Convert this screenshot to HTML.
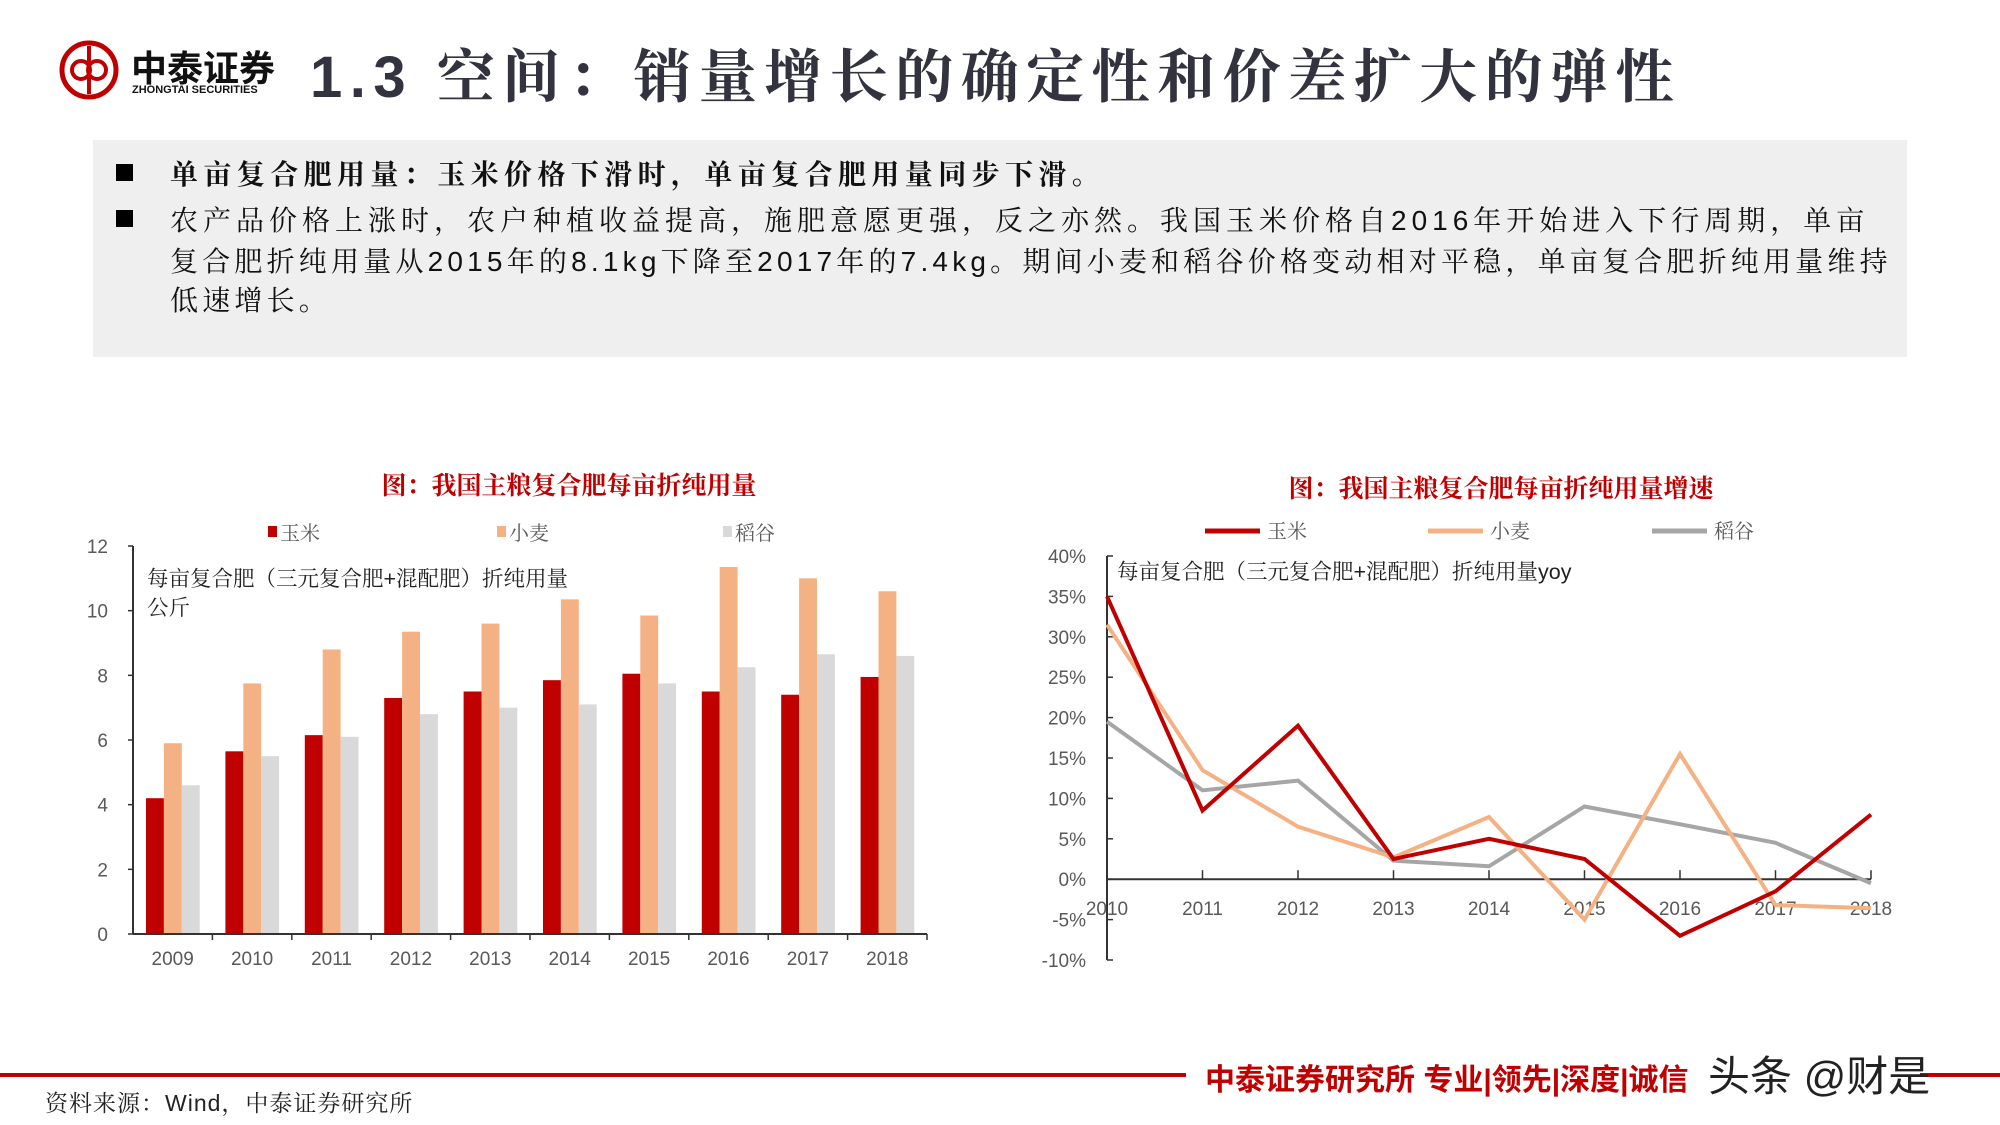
<!DOCTYPE html>
<html><head><meta charset="utf-8">
<style>
body{margin:0;width:2000px;height:1125px;background:#fff;position:relative;overflow:hidden;font-family:"Liberation Sans","Noto Sans CJK SC",sans-serif;}
.abs{position:absolute;}
.box{left:93px;top:140px;width:1814px;height:217px;background:#efefef;}
.line{position:absolute;left:170px;font-family:"Liberation Sans","Noto Serif CJK SC",serif;font-size:28px;color:#111;white-space:nowrap;letter-spacing:4.2px;}
.bul{position:absolute;left:116px;width:17px;height:17px;background:#000;}
</style></head><body>
<div class="abs" style="left:57px;top:38px;width:300px;height:64px;">
<svg width="64" height="64" style="position:absolute;left:0;top:0"><circle cx="32" cy="32" r="27" fill="none" stroke="#c00000" stroke-width="5"/><circle cx="24" cy="32" r="9" fill="none" stroke="#c00000" stroke-width="4"/><circle cx="40" cy="32" r="9" fill="none" stroke="#c00000" stroke-width="4"/><line x1="32" y1="8" x2="32" y2="56" stroke="#c00000" stroke-width="4"/></svg>
<div class="abs" style="left:74px;top:2px;font-size:36px;font-weight:bold;color:#111;white-space:nowrap;">中泰证券</div>
<div class="abs" style="left:75px;top:46px;font-size:11px;font-weight:bold;color:#111;white-space:nowrap;">ZHONGTAI SECURITIES</div>
</div>
<div class="abs" style="left:310px;top:30px;font-size:58px;font-weight:bold;color:#333340;white-space:nowrap;letter-spacing:7.5px;font-family:'Liberation Sans','Noto Serif CJK SC',serif;">1.3 空间：销量增长的确定性和价差扩大的弹性</div>
<div class="abs box"></div>
<div class="bul" style="top:164px"></div>
<div class="line" style="top:153px;font-weight:bold;letter-spacing:5.4px">单亩复合肥用量：玉米价格下滑时，单亩复合肥用量同步下滑。</div>
<div class="bul" style="top:210px"></div>
<div class="line" style="top:199px;letter-spacing:5px">农产品价格上涨时，农户种植收益提高，施肥意愿更强，反之亦然。我国玉米价格自2016年开始进入下行周期，单亩</div>
<div class="line" style="top:240px">复合肥折纯用量从2015年的8.1kg下降至2017年的7.4kg。期间小麦和稻谷价格变动相对平稳，单亩复合肥折纯用量维持</div>
<div class="line" style="top:279px">低速增长。</div>

<svg class="abs" style="left:0;top:0" width="2000" height="1125" id="charts">
<text x="569" y="494" text-anchor="middle" font-size="25" font-weight="bold" fill="#c00000" font-family="Liberation Serif,Noto Serif CJK SC,serif">图：我国主粮复合肥每亩折纯用量</text>
<text x="1501" y="497" text-anchor="middle" font-size="25" font-weight="bold" fill="#c00000" font-family="Liberation Serif,Noto Serif CJK SC,serif">图：我国主粮复合肥每亩折纯用量增速</text>
<g id="bar" font-family="Liberation Sans,Noto Serif CJK SC,sans-serif"></g>
<g id="ln" font-family="Liberation Sans,Noto Serif CJK SC,sans-serif"></g>
</svg>

<div class="abs" style="left:0;top:1073px;width:1186px;height:4px;background:#c00000;"></div>
<div class="abs" style="left:1920px;top:1073px;width:80px;height:4px;background:#c00000;"></div>
<div class="abs" style="left:1205px;top:1055px;font-size:30px;font-weight:bold;color:#c00000;white-space:nowrap;">中泰证券研究所 专业|领先|深度|诚信</div>
<div class="abs" style="left:1708px;top:1043px;font-size:42px;color:#222;white-space:nowrap;">头条 @财是</div>
<div class="abs" style="left:45px;top:1085px;font-size:23px;color:#222;white-space:nowrap;letter-spacing:1px;font-family:'Liberation Sans','Noto Serif CJK SC',serif;">资料来源：Wind，中泰证券研究所</div>

<script>
const years=["2009","2010","2011","2012","2013","2014","2015","2016","2017","2018"];
const corn=[4.2,5.65,6.15,7.3,7.5,7.85,8.05,7.5,7.4,7.95];
const wheat=[5.9,7.75,8.8,9.35,9.6,10.35,9.85,11.35,11.0,10.6];
const rice=[4.6,5.5,6.1,6.8,7.0,7.1,7.75,8.25,8.65,8.6];
const barTicks=[0,2,4,6,8,10,12];
const lnYears=["2010","2011","2012","2013","2014","2015","2016","2017","2018"];
const cornYoy=[35,8.5,19,2.5,5,2.5,-7,-1.5,8];
const wheatYoy=[31.5,13.5,6.5,2.7,7.7,-5,15.5,-3.2,-3.6];
const riceYoy=[19.5,11,12.2,2.3,1.6,9,6.8,4.5,-0.5];
const lnTicks=[-10,-5,0,5,10,15,20,25,30,35,40];
const NS="http://www.w3.org/2000/svg";
function mk(p,t,a,txt){const e=document.createElementNS(NS,t);for(const k in a)e.setAttribute(k,a[k]);if(txt!=null)e.textContent=txt;p.appendChild(e);return e;}
// bar chart
const B=document.getElementById('bar');
const bx0=133,bx1=927,by0=934,by1=546;
const by=v=>by0-(v/12)*(by0-by1);
const bw=(bx1-bx0)/years.length;
barTicks.forEach(t=>{const e=mk(B,'text',{x:108,y:by(t)+7,'text-anchor':'end','font-size':19,fill:'#595959'},t);


mk(B,'line',{x1:bx0-5,x2:bx0,y1:by(t),y2:by(t),stroke:'#333','stroke-width':1.5});});
const series=[[corn,'#c00000','玉米'],[wheat,'#f4b183','小麦'],[rice,'#d9d9d9','稻谷']];
years.forEach((y,i)=>{const gx=bx0+i*bw;
series.forEach((s,j)=>{const e=mk(B,'rect',{x:gx+13+j*17.9,y:by(s[0][i]),width:17.9,height:by0-by(s[0][i]),fill:s[1]});

});
const t=mk(B,'text',{x:gx+bw/2,y:by0+31,'text-anchor':'middle','font-size':19,fill:'#595959'},y);


mk(B,'line',{x1:gx+bw,x2:gx+bw,y1:by0,y2:by0+6,stroke:'#333','stroke-width':1.5});});
mk(B,'line',{x1:bx0,x2:bx0,y1:by1,y2:by0,stroke:'#333','stroke-width':2});
mk(B,'line',{x1:bx0,x2:bx1,y1:by0,y2:by0,stroke:'#333','stroke-width':2});
[[268,'玉米'],[497,'小麦'],[723,'稻谷']].forEach((l,j)=>{const r=mk(B,'rect',{x:l[0],y:526,width:9,height:11,fill:series[j][1]});


const t=mk(B,'text',{x:l[0]+12,y:540,'font-size':20,fill:'#595959'},l[1]);

});
let a=mk(B,'text',{x:147,y:586,'font-size':21.5,fill:'#222'},'每亩复合肥（三元复合肥+混配肥）折纯用量');


a=mk(B,'text',{x:147,y:615,'font-size':21.5,fill:'#222'},'公斤');


// line chart
const L=document.getElementById('ln');
const lx0=1107,lx1=1871,ly40=556,lyn10=960;
const ly=v=>ly40+(40-v)/50*(lyn10-ly40);
const lx=i=>lx0+i*(lx1-lx0)/(lnYears.length-1);
lnTicks.forEach(t=>{const e=mk(L,'text',{x:1086,y:ly(t)+7,'text-anchor':'end','font-size':19,fill:'#595959'},t+'%');


mk(L,'line',{x1:lx0,x2:lx0+6,y1:ly(t),y2:ly(t),stroke:'#333','stroke-width':1.5});});
mk(L,'line',{x1:lx0,x2:lx0,y1:ly40,y2:lyn10,stroke:'#333','stroke-width':2});
mk(L,'line',{x1:lx0,x2:lx1,y1:ly(0),y2:ly(0),stroke:'#333','stroke-width':2});
lnYears.forEach((y,i)=>{mk(L,'line',{x1:lx(i),x2:lx(i),y1:ly(0),y2:ly(0)-9,stroke:'#333','stroke-width':1.5});
const t=mk(L,'text',{x:lx(i),y:ly(0)+36,'text-anchor':'middle','font-size':19,fill:'#595959'},y);

});
const ls=[[riceYoy,'#a6a6a6','稻谷'],[wheatYoy,'#f4b183','小麦'],[cornYoy,'#c00000','玉米']];
ls.forEach(s=>{const p=mk(L,'polyline',{points:s[0].map((v,i)=>lx(i)+','+ly(v)).join(' '),fill:'none',stroke:s[1],'stroke-width':4,'stroke-linejoin':'miter'});

});
[[1205,'玉米','#c00000'],[1428,'小麦','#f4b183'],[1652,'稻谷','#a6a6a6']].forEach(l=>{const r=mk(L,'line',{x1:l[0],x2:l[0]+55,y1:531,y2:531,stroke:l[2],'stroke-width':5});


const t=mk(L,'text',{x:l[0]+62,y:538,'font-size':20,fill:'#595959'},l[1]);

});
a=mk(L,'text',{x:1117,y:579,'font-size':21.5,fill:'#222'},'每亩复合肥（三元复合肥+混配肥）折纯用量yoy');


</script>
</body></html>
